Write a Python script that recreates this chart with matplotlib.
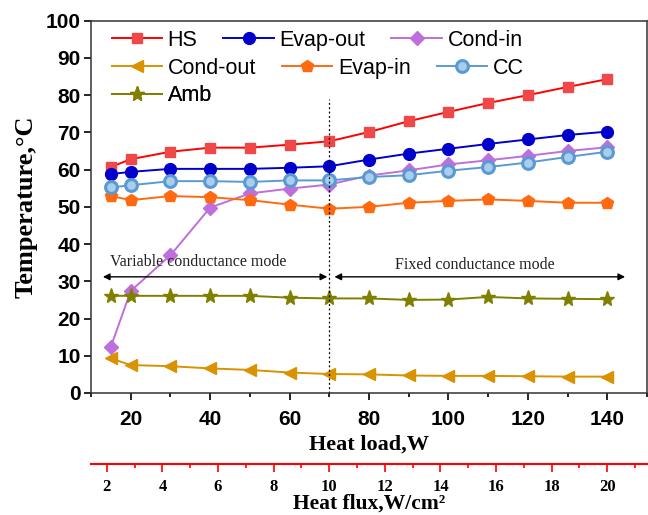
import numpy as np
import matplotlib.pyplot as plt
from matplotlib.ticker import MultipleLocator, FixedLocator

plt.rcParams['font.family'] = ['Liberation Sans', 'DejaVu Sans']

heat_load = [15, 20, 30, 40, 50, 60, 70, 80, 90, 100, 110, 120, 130, 140]
flux_ticks = [2, 4, 6, 8, 10, 12, 14, 16, 18, 20]

hs = [60.7, 62.8, 64.8, 65.9, 65.9, 66.7, 67.6, 70.1, 73.0, 75.5, 77.9, 80.0, 82.2, 84.3]
evap_out = [58.8, 59.4, 60.2, 60.2, 60.2, 60.5, 60.9, 62.7, 64.3, 65.6, 66.9, 68.1, 69.3, 70.2]
cond_in = [12.4, 27.4, 37.0, 49.8, 53.6, 54.9, 56.0, 58.4, 59.8, 61.4, 62.5, 63.7, 65.0, 66.0]
cond_out = [9.3, 7.5, 7.2, 6.6, 6.2, 5.5, 5.1, 5.0, 4.7, 4.6, 4.6, 4.5, 4.4, 4.4]
evap_in = [52.9, 51.8, 52.9, 52.6, 51.8, 50.6, 49.5, 50.0, 51.1, 51.6, 52.0, 51.6, 51.1, 51.1]
cc = [55.2, 55.8, 56.9, 56.9, 56.7, 57.1, 57.1, 58.0, 58.5, 59.7, 60.7, 61.9, 63.4, 64.8]
amb = [26.1, 26.1, 26.1, 26.1, 26.1, 25.6, 25.4, 25.4, 25.0, 25.1, 25.8, 25.4, 25.3, 25.2]

series = [
    ('HS', hs, '#FF0000', dict(marker='s', mfc='#F04848', mec='#F04848', ms=7.5)),
    ('Evap-out', evap_out, '#0000CC', dict(marker='o', mfc='#0000CC', mec='#0000CC', ms=8.5)),
    ('Cond-in', cond_in, '#BE6FDB', dict(marker='D', mfc='#BE6FDB', mec='#BE6FDB', ms=7)),
    ('Cond-out', cond_out, '#D99200', dict(marker='<', mfc='#D99200', mec='#D99200', ms=9)),
    ('Evap-in', evap_in, '#FF6A10', dict(marker='p', mfc='#FF6A10', mec='#FF6A10', ms=9)),
    ('CC', cc, '#5A9AD2', dict(marker='o', mfc='#A9CDEB', mec='#5A9AD2', mew=2.2, ms=8.5)),
    ('Amb', amb, '#808000', dict(marker='*', mfc='#808000', mec='#808000', ms=11)),
]

fig = plt.figure(figsize=(6.48, 5.15), dpi=100)
ax = fig.add_axes([0.1404, 0.2369, 0.858, 0.7229])

handles = {}
for name, vals, col, mk in series:
    h, = ax.plot(heat_load, vals, color=col, lw=1.4, label=name, **mk)
    handles[name] = h

ax.set_xlim(10, 150)
ax.set_ylim(0, 100)
ax.xaxis.set_major_locator(MultipleLocator(20))
ax.xaxis.set_minor_locator(MultipleLocator(10))
ax.yaxis.set_major_locator(MultipleLocator(10))
ax.tick_params(axis='both', which='major', direction='out', length=5, width=1.2,
               labelsize=15)
ax.tick_params(axis='x', which='minor', direction='out', length=3, width=1.2)
ax.tick_params(axis='x', pad=7)
ax.tick_params(axis='y', pad=2.5)
for lab in ax.get_xticklabels() + ax.get_yticklabels():
    lab.set_fontweight('bold')
for sp in ax.spines.values():
    sp.set_linewidth(1.1)
    sp.set_color('#333333')

ax.set_xlabel('Heat load,W', family='Liberation Serif', fontweight='bold',
              fontsize=16, labelpad=4)
ax.set_ylabel('Temperature,\u00b0C', family='Liberation Serif', fontweight='bold',
              fontsize=19, labelpad=6)

# mode boundary and annotations
ax.plot([70, 70], [0, 79], ls=(0, (1.5, 2)), color='black', lw=0.9)
ax.annotate('', xy=(13, 31.2), xytext=(69.5, 31.2),
            arrowprops=dict(arrowstyle='<|-|>', color='black', lw=1.0,
                            mutation_scale=10, shrinkA=0, shrinkB=0))
ax.annotate('', xy=(71.3, 31.2), xytext=(144.5, 31.2),
            arrowprops=dict(arrowstyle='<|-|>', color='black', lw=1.0,
                            mutation_scale=10, shrinkA=0, shrinkB=0))
ax.text(37, 35.2, 'Variable conductance mode', family='Liberation Serif',
        fontsize=11.5, color='#222222', ha='center', va='center')
ax.text(106.7, 34.3, 'Fixed conductance mode', family='Liberation Serif',
        fontsize=11.5, color='#222222', ha='center', va='center')

# legend rows laid out like a three-row key
rows = [['HS', 'Evap-out', 'Cond-in'], ['Cond-out', 'Evap-in', 'CC'], ['Amb']]
row_y = [0.975, 0.9, 0.826]
for names, yy in zip(rows, row_y):
    leg = ax.legend([handles[n] for n in names], names, ncol=len(names),
                    loc='upper left', bbox_to_anchor=(0.037, yy), frameon=False,
                    fontsize=15.5, handlelength=2.33, handletextpad=0.28,
                    columnspacing=1.2, borderaxespad=0, borderpad=0)
    ax.add_artist(leg)

# heat flux scale below the heat load axis
sec = ax.secondary_xaxis(-0.1905, functions=(lambda x: x / 7.0, lambda x: x * 7.0))
sec.spines['bottom'].set_color('#FF0000')
sec.spines['bottom'].set_linewidth(1.5)
sec.xaxis.set_major_locator(FixedLocator(flux_ticks))
sec.xaxis.set_minor_locator(FixedLocator([3, 5, 7, 9, 11, 13, 15, 17, 19, 21]))
sec.tick_params(axis='x', which='major', direction='out', length=6, width=1.2,
                color='#FF0000', labelsize=12, pad=5)
sec.tick_params(axis='x', which='minor', direction='out', length=3, width=1.2,
                color='#FF0000')
for lab in sec.get_xticklabels():
    lab.set_family('Liberation Serif')
    lab.set_fontweight('bold')
sec.set_xlabel('Heat flux,W/cm\u00b2', family='Liberation Serif', fontweight='bold',
               fontsize=15.5, labelpad=-1)

fig.savefig('out.png', dpi=100)
